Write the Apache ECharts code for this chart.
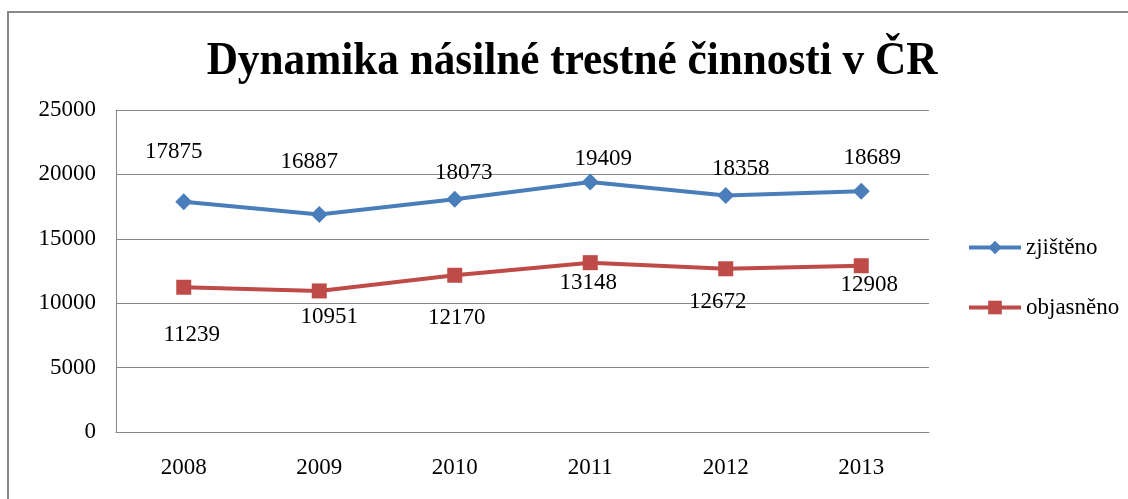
<!DOCTYPE html>
<html>
<head>
<meta charset="utf-8">
<script src="https://cdn.jsdelivr.net/npm/echarts@6/dist/echarts.min.js"></script>
<style>
  html, body { margin: 0; padding: 0; background: #fff; }
  #chart { width: 1128px; height: 499px; }
</style>
</head>
<body>
<div id="chart"></div>
<script>
const years = ["2008", "2009", "2010", "2011", "2012", "2013"];
const zjisteno = [17875, 16887, 18073, 19409, 18358, 18689];
const objasneno = [11239, 10951, 12170, 13148, 12672, 12908];
const yTicks = { min: 0, max: 25000, interval: 5000 };

// hand-placed label nudges, like in the original sheet
const blueLabelShift = [[-10, -50], [-10, -53], [9, -26], [13, -23], [15, -27], [11, -33]];
const redLabelShift = [[8, 48], [10, 26], [2, 43], [-2, 20], [-8, 33], [8, 19]];

const serif = '"Liberation Serif", "Times New Roman", serif';

const withLabels = (values, shifts) =>
  values.map((v, i) => ({
    value: v,
    label: { offset: shifts[i] },
  }));

const chart = echarts.init(document.getElementById("chart"));

const option = {
  backgroundColor: "#fff",
  animation: false,
  graphic: [
    {
      type: "rect",
      shape: { x: 8, y: 12, width: 1200, height: 600 },
      style: { fill: "none", stroke: "#888", lineWidth: 2 },
      silent: true,
    },
    {
      type: "text",
      x: 572,
      y: 62,
      scaleX: 0.94,
      originX: 0,
      originY: 0,
      style: {
        text: "Dynamika násilné trestné činnosti v ČR",
        font: "bold 46px " + serif,
        fill: "#000",
        align: "center",
        verticalAlign: "middle",
      },
    },
  ],
  legend: {
    orient: "vertical",
    left: 962,
    top: 231,
    itemWidth: 52,
    itemHeight: 17,
    itemGap: 37,
    lineStyle: { width: 4 },
    textStyle: { fontFamily: serif, fontSize: 23, color: "#000" },
    data: ["zjištěno", "objasněno"],
  },
  grid: { left: 116, right: 199, top: 110, bottom: 67 },
  xAxis: {
    type: "category",
    data: years,
    boundaryGap: true,
    axisLine: { lineStyle: { color: "#868686", width: 1 } },
    axisTick: { show: false },
    axisLabel: { fontFamily: serif, fontSize: 23, color: "#000", margin: 24 },
  },
  yAxis: {
    type: "value",
    min: yTicks.min,
    max: yTicks.max,
    interval: yTicks.interval,
    axisLine: { show: true, lineStyle: { color: "#868686", width: 1 } },
    axisTick: { show: false },
    splitLine: { lineStyle: { color: "#868686", width: 1 } },
    axisLabel: {
      fontFamily: serif,
      fontSize: 23,
      color: "#000",
      margin: 20,
      formatter: (v) => String(v),
    },
  },
  series: [
    {
      name: "zjištěno",
      type: "line",
      data: withLabels(zjisteno, blueLabelShift),
      symbol: "diamond",
      symbolSize: 17,
      lineStyle: { color: "#4A7EBB", width: 4 },
      itemStyle: { color: "#4A7EBB" },
      label: {
        show: true,
        position: "inside",
        fontFamily: serif,
        fontSize: 23,
        color: "#000",
      },
    },
    {
      name: "objasněno",
      type: "line",
      data: withLabels(objasneno, redLabelShift),
      symbol: "rect",
      symbolSize: 15,
      lineStyle: { color: "#BE4B48", width: 4 },
      itemStyle: { color: "#BE4B48" },
      label: {
        show: true,
        position: "inside",
        fontFamily: serif,
        fontSize: 23,
        color: "#000",
      },
    },
  ],
};

chart.setOption(option);
</script>
</body>
</html>
